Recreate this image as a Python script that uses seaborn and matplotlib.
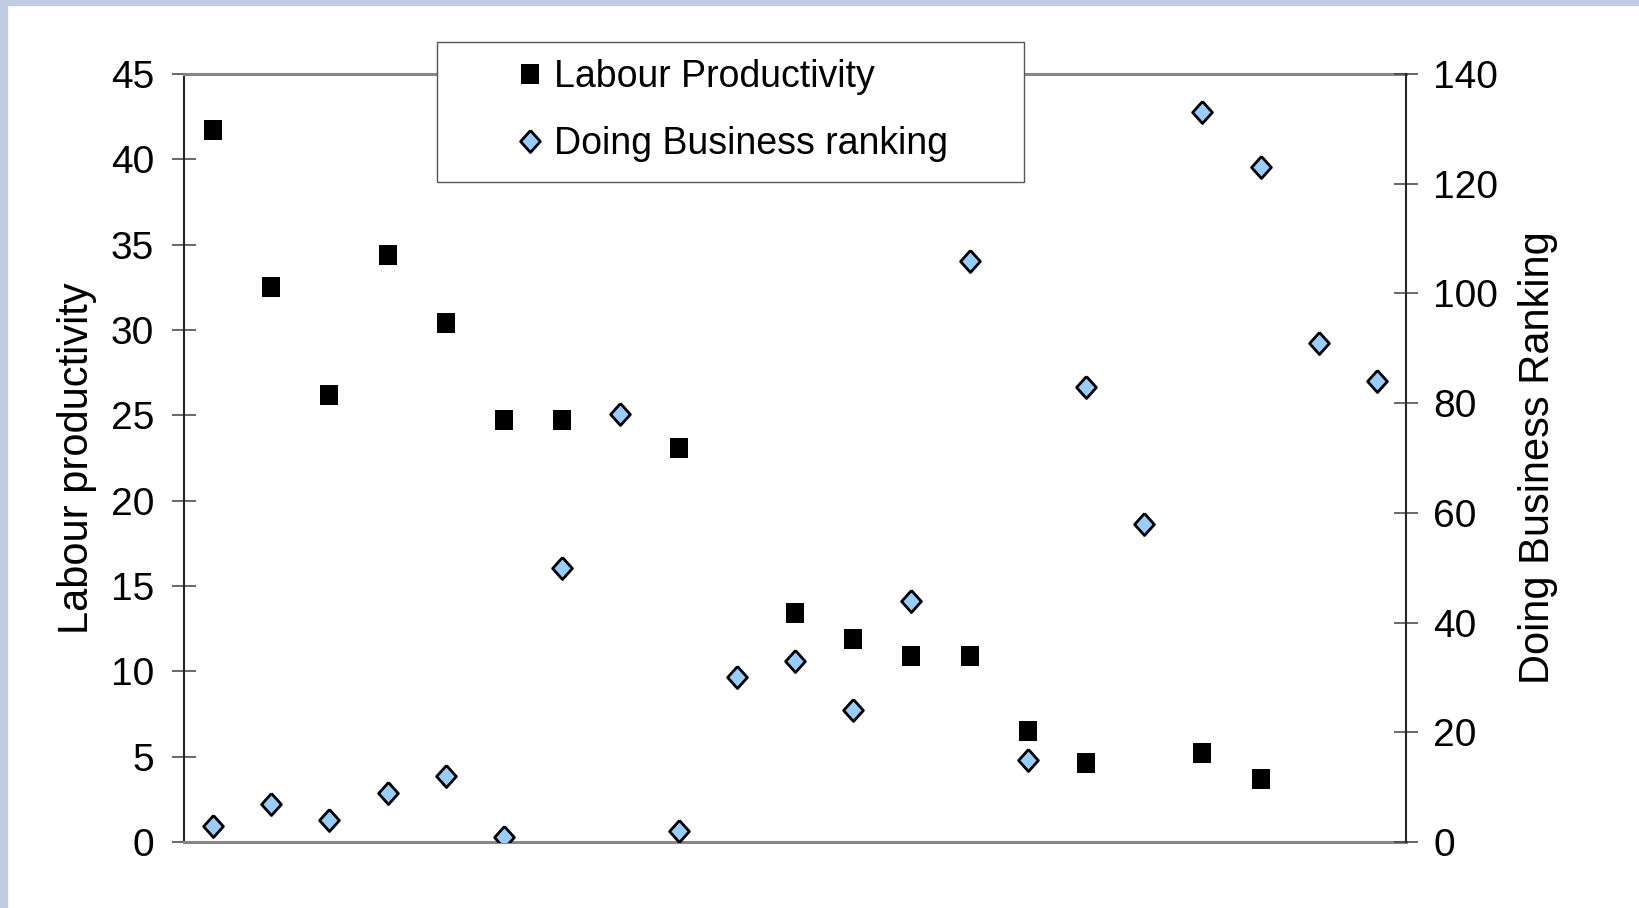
import numpy as np
import pandas as pd
import matplotlib
matplotlib.use("Agg")
import matplotlib.pyplot as plt
from matplotlib.lines import Line2D
from matplotlib.patches import Rectangle
import seaborn as sns

# one position per country, left to right
country_pos = list(range(1, 22))
labour_productivity = [41.7, 32.5, 26.2, 34.4, 30.4, 24.7, 24.7, np.nan, 23.1, np.nan,
                       13.4, 11.9, 10.9, 10.9, 6.5, 4.6, np.nan, 5.2, 3.7, np.nan, np.nan]
doing_business_rank = [3, 7, 4, 9, 12, 1, 50, 78, 2, 30, 33,
                       24, 44, 106, 15, 83, 58, 133, 123, 91, 84]
left_ticks = [0, 5, 10, 15, 20, 25, 30, 35, 40, 45]
right_ticks = [0, 20, 40, 60, 80, 100, 120, 140]
legend_labels = ['Labour Productivity', 'Doing Business ranking']

df = pd.DataFrame({'country': country_pos,
                   'productivity': labour_productivity,
                   'ranking': doing_business_rank})

plt.rcParams['font.family'] = ['Liberation Sans', 'DejaVu Sans']

W, H = 1639, 908
fig = plt.figure(figsize=(W / 100, H / 100), dpi=100, facecolor='white')
ax = fig.add_axes([184 / W, 1 - 842 / H, (1406 - 184) / W, (842 - 74) / H])
ax2 = ax.twinx()

square = [(-0.85, -1), (0.85, -1), (0.85, 1), (-0.85, 1), (-0.85, -1)]
diamond = [(0, 1), (0.9, 0), (0, -1), (-0.9, 0), (0, 1)]
blue = '#99CCFF'

sns.scatterplot(data=df, x='country', y='productivity', marker=square, s=212,
                color='black', edgecolor='black', linewidth=0, ax=ax,
                legend=False, zorder=3)
sns.scatterplot(data=df, x='country', y='ranking', marker=diamond, s=250,
                color=blue, edgecolor='black', linewidth=2.0, ax=ax2,
                legend=False, zorder=3)

ax.set_xlim(0.5, 21.5)
ax.set_ylim(0, 45)
ax2.set_ylim(0, 140)
ax.set_xticks([])
ax.set_xlabel('')
ax.set_yticks(left_ticks)
ax2.set_yticks(right_ticks)
ax.tick_params(axis='y', direction='inout', length=17, width=1.1, color='#404040',
               labelsize=28, pad=13)
ax2.tick_params(axis='y', direction='inout', length=17, width=1.1, color='#404040',
                labelsize=28, pad=11)

ax.set_ylabel('Labour productivity', fontsize=30)
ax.yaxis.set_label_coords(-0.0712, 0.5)
ax2.set_ylabel('Doing Business Ranking', fontsize=30)
ax2.yaxis.set_label_coords(1.0917, 0.5)

ax.spines['left'].set_color('#262626')
ax.spines['left'].set_linewidth(1.5)
for side in ['top', 'bottom']:
    ax.spines[side].set_color('#868686')
    ax.spines[side].set_linewidth(2.2)
ax.spines['right'].set_visible(False)
for side in ['left', 'top', 'bottom']:
    ax2.spines[side].set_visible(False)
ax2.spines['right'].set_color('#262626')
ax2.spines['right'].set_linewidth(1.5)

# slide-style border strips
fig.add_artist(Rectangle((0, 1 - 5 / H), 1, 5 / H, transform=fig.transFigure,
                         color='#C1CCE0', zorder=0))
fig.add_artist(Rectangle((0, 0), 7 / W, 1, transform=fig.transFigure,
                         color='#C1CCE0', zorder=0))

# legend box sits over the top border of the plot
fig.add_artist(Rectangle((437 / W, 1 - 182 / H), 587 / W, 140 / H,
                         transform=fig.transFigure, facecolor='white',
                         edgecolor='#555555', linewidth=1, zorder=4))
handles = [Line2D([], [], ls='none', marker=square, ms=14.6, mfc='black',
                  mec='black', mew=0),
           Line2D([], [], ls='none', marker=diamond, ms=15.8, mfc=blue,
                  mec='black', mew=2.0)]
leg = fig.legend(handles, legend_labels, loc='center left',
                 bbox_to_anchor=(519 / W, 1 - 110.7 / H), frameon=False,
                 fontsize=27, handlelength=0.6, handletextpad=0.33,
                 labelspacing=0.84, borderpad=0, borderaxespad=0)
leg.set_zorder(6)

fig.savefig('out.png', dpi=100, facecolor='white')
